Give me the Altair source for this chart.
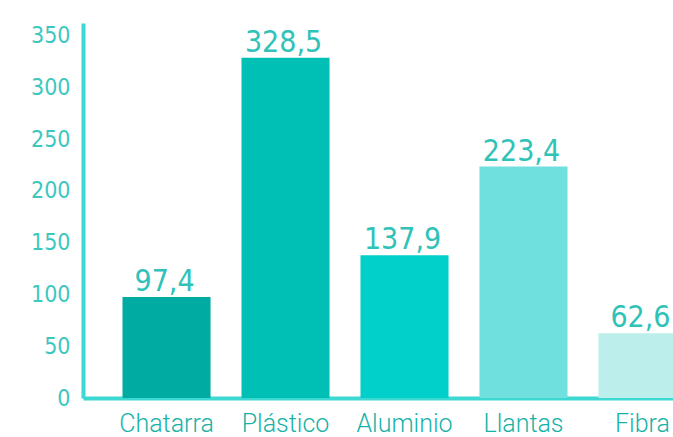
import altair as alt
import pandas as pd

categories = ["Chatarra", "Plástico", "Aluminio", "Llantas", "Fibra"]
values = [97.4, 328.5, 137.9, 223.4, 62.6]
labels = ["97,4", "328,5", "137,9", "223,4", "62,6"]
colors = ["#00aca2", "#00c0b6", "#00cfca", "#6fe0dd", "#bceeeb"]
y_ticks = [0, 50, 100, 150, 200, 250, 300, 350]

df = pd.DataFrame({"cat": categories, "val": values, "lab": labels, "col": colors})

NARROW = "DejaVu Sans Condensed, Liberation Sans Narrow, Arial Narrow, sans-serif"

x = alt.X("cat:N", sort=categories,
          scale=alt.Scale(range=[0, 643], paddingInner=0.26, paddingOuter=0.332),
          axis=alt.Axis(title=None, labelAngle=0, labelFont="Roboto", labelFontWeight=300,
                        labelFontSize=25, labelColor="#17b2a7", ticks=False, labelPadding=25,
                        domainColor="#3dd8d2", domainWidth=4, labelBaseline="middle"))
y = alt.Y("val:Q", scale=alt.Scale(domain=[0, 362], nice=False),
          axis=alt.Axis(title=None, values=y_ticks, grid=False, ticks=False,
                        labelFont=NARROW, labelFontSize=23,
                        labelColor="#3cc8bf", labelPadding=13,
                        domainColor="#3dd8d2", domainWidth=4))

bars = alt.Chart(df).mark_bar(clip=True).encode(
    x=x, y=y, color=alt.Color("col:N", scale=None))

text = alt.Chart(df).mark_text(baseline="alphabetic", dy=-6, dx=-2, font=NARROW,
                               fontSize=30, color="#2fc2b8").encode(
    x=alt.X("cat:N", sort=categories), y="val:Q", text="lab:N")

chart = (bars + text).properties(
    width=590, height=375,
    autosize=alt.AutoSizeParams(type="none"),
    padding={"left": 83, "top": 23, "right": 0, "bottom": 39},
).configure(background="white", view=alt.ViewConfig(stroke="transparent", strokeWidth=0))

chart.save("out.html", embed_options={"renderer": "svg", "actions": False})
